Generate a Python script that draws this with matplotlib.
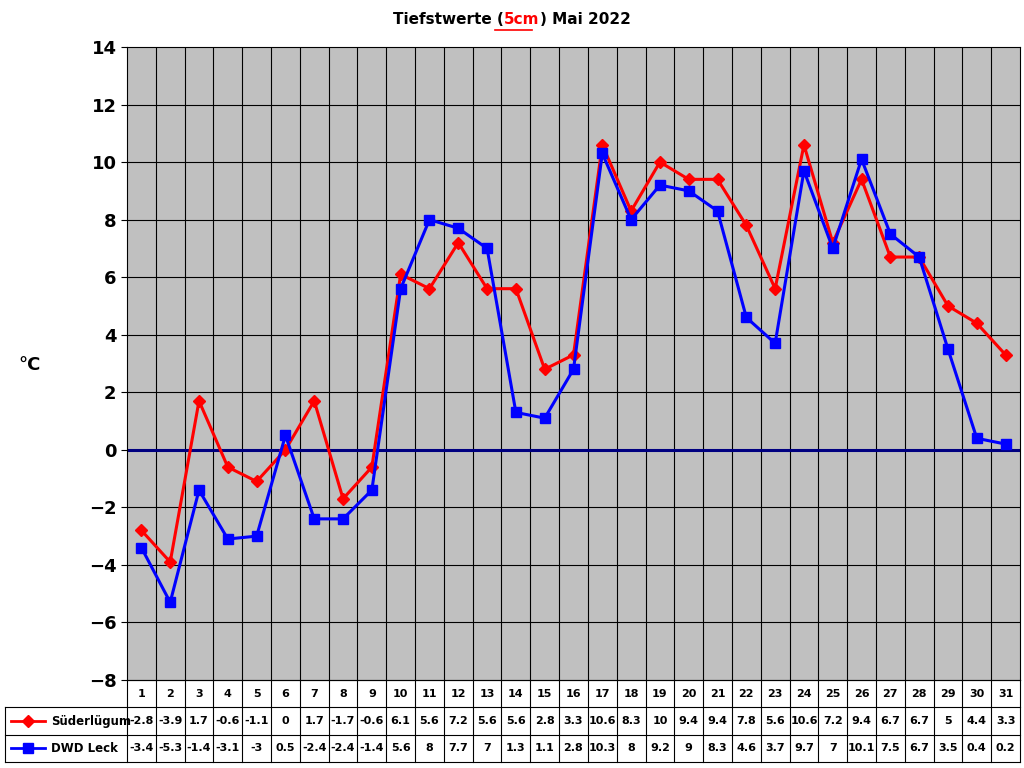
import numpy as np
import matplotlib.pyplot as plt
from matplotlib.offsetbox import TextArea, HPacker, AnchoredOffsetbox

days = list(range(1, 32))
suederluegum = [-2.8, -3.9, 1.7, -0.6, -1.1, 0, 1.7, -1.7, -0.6, 6.1, 5.6, 7.2, 5.6, 5.6, 2.8, 3.3,
                10.6, 8.3, 10, 9.4, 9.4, 7.8, 5.6, 10.6, 7.2, 9.4, 6.7, 6.7, 5, 4.4, 3.3]
dwd_leck = [-3.4, -5.3, -1.4, -3.1, -3, 0.5, -2.4, -2.4, -1.4, 5.6, 8, 7.7, 7, 1.3, 1.1, 2.8,
            10.3, 8, 9.2, 9, 8.3, 4.6, 3.7, 9.7, 7, 10.1, 7.5, 6.7, 3.5, 0.4, 0.2]
series = [("Süderlügum", suederluegum, "#FF0000", "D", 6),
          ("DWD Leck", dwd_leck, "#0000FF", "s", 7)]

W, H = 1024, 768
fig = plt.figure(figsize=(W / 100, H / 100), dpi=100)
fig.patch.set_facecolor("white")

x0, x1, y0, y1 = 127, 1020, 47, 680
ax = fig.add_axes([x0 / W, 1 - y1 / H, (x1 - x0) / W, (y1 - y0) / H])
ax.set_facecolor("#C0C0C0")
ax.set_xlim(0.5, 31.5)
ax.set_ylim(-8, 14)
ax.set_yticks(range(-8, 15, 2))
ax.set_xticks([])
ax.tick_params(axis="y", labelsize=13, length=4)
for lab in ax.get_yticklabels():
    lab.set_fontweight("bold")
for v in np.arange(1.5, 31, 1):
    ax.axvline(v, color="black", lw=0.8, zorder=1)
for v in range(-6, 14, 2):
    ax.axhline(v, color="black", lw=0.8, zorder=1)
ax.axhline(0, color="#000080", lw=2.2, zorder=2)
for name, vals, col, mk, ms in series:
    ax.plot(days, vals, color=col, marker=mk, ms=ms, lw=2.2, zorder=3)
for s in ax.spines.values():
    s.set_color("black")
fig.text(18 / W, 1 - 365 / H, "°C", fontsize=13, fontweight="bold", va="center")

# title with highlighted "5cm"
parts = [TextArea("Tiefstwerte (", textprops=dict(fontsize=11, fontweight="bold")),
         TextArea("5cm", textprops=dict(fontsize=11, fontweight="bold", color="red")),
         TextArea(") Mai 2022", textprops=dict(fontsize=11, fontweight="bold"))]
box = HPacker(children=parts, pad=0, sep=0)
fig.add_artist(AnchoredOffsetbox(loc="center", child=box, frameon=False,
                                 bbox_to_anchor=(512 / W, 1 - 20 / H),
                                 bbox_transform=fig.transFigure))
fig.add_artist(plt.Line2D([495 / W, 532 / W], [1 - 30 / H, 1 - 30 / H],
                          color="red", lw=1.2, transform=fig.transFigure))

# data table
t_bottom = 762
tab = fig.add_axes([x0 / W, 1 - t_bottom / H, (x1 - x0) / W, (t_bottom - y1) / H])
tab.set_xlim(0.5, 31.5)
tab.set_ylim(0, 3)
tab.axis("off")
left = 0.5 + (5 - x0) / ((x1 - x0) / 31)
kw = dict(color="black", lw=0.8, clip_on=False)
for xv in np.arange(0.5, 32, 1):
    tab.plot([xv, xv], [0, 3], **kw)
tab.plot([left, left], [0, 2], **kw)
tab.plot([0.5, 31.5], [3, 3], **kw)
for yv in (0, 1, 2):
    tab.plot([left, 31.5], [yv, yv], **kw)
for d in days:
    tab.text(d, 2.5, str(d), ha="center", va="center", fontsize=8, fontweight="bold")
for row, (name, vals, col, mk, ms) in zip((1.5, 0.5), series):
    for d, v in zip(days, vals):
        tab.text(d, row, f"{v:g}", ha="center", va="center", fontsize=8, fontweight="bold")
    tab.plot([left + 0.2, left + 1.4], [row, row], color=col, lw=2, clip_on=False)
    tab.plot([left + 0.8], [row], color=col, marker=mk, ms=ms, clip_on=False)
    tab.text(left + 1.6, row, name, ha="left", va="center", fontsize=8.5, fontweight="bold")

fig.savefig("out.png", dpi=100)
